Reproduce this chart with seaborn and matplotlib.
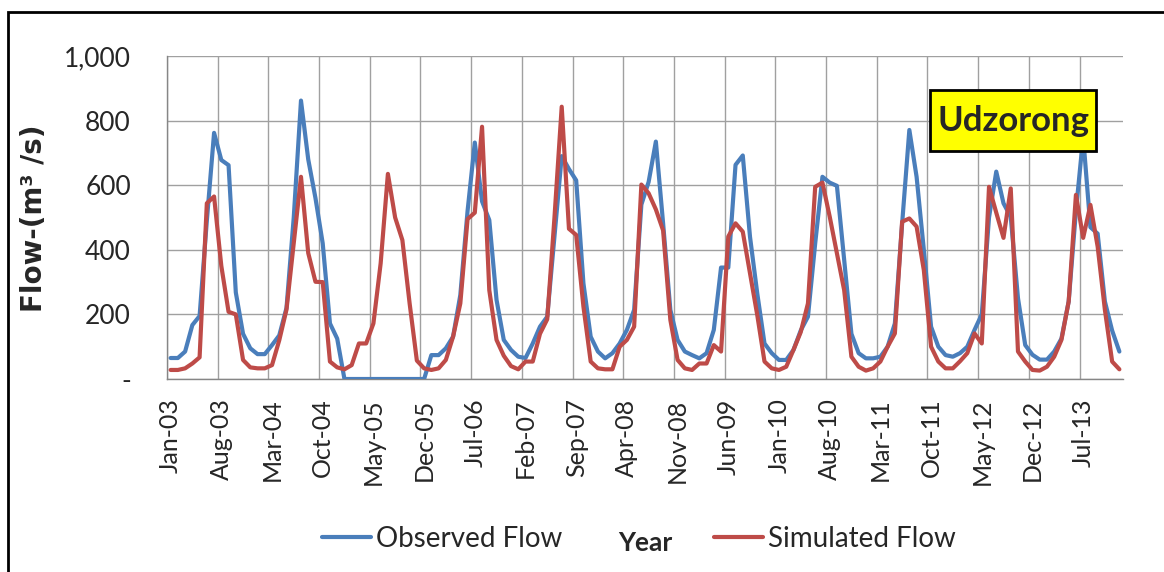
import numpy as np
import pandas as pd
import matplotlib
matplotlib.use("Agg")
import matplotlib.pyplot as plt
import seaborn as sns
from matplotlib.lines import Line2D
from matplotlib.patches import Rectangle

# ---------------- data (monthly, Jan-03 .. Dec-13) ----------------
observed = [65, 65, 85, 167, 195, 490, 762, 678, 662, 268, 140, 95,
            77, 77, 105, 135, 220, 500, 862, 680, 560, 420, 172, 125,
            0, 0, 0, 0, 0, 0, 0, 0, 0, 0, 0, 0,
            74, 74, 95, 131, 260, 520, 732, 550, 492, 245, 121, 90,
            69, 65, 110, 162, 193, 440, 690, 650, 615, 296, 131, 85,
            64, 80, 110, 152, 214, 540, 610, 735, 482, 214, 121, 85,
            74, 64, 80, 152, 345, 345, 663, 692, 440, 265, 110, 80,
            59, 59, 90, 150, 193, 420, 626, 608, 598, 370, 140, 80,
            64, 64, 69, 100, 172, 480, 771, 626, 400, 162, 100, 74,
            69, 80, 100, 152, 200, 500, 642, 544, 502, 250, 105, 75,
            60, 60, 85, 125, 240, 520, 750, 470, 450, 240, 150, 85]

simulated = [28, 28, 33, 48, 67, 544, 565, 350, 208, 200, 59, 36,
             33, 33, 43, 120, 215, 420, 626, 390, 301, 300, 54, 36,
             30, 43, 110, 110, 172, 358, 635, 500, 430, 234, 57, 33,
             28, 33, 59, 131, 234, 495, 515, 781, 275, 121, 72, 40,
             30, 54, 54, 140, 185, 500, 843, 465, 446, 224, 54, 33,
             30, 30, 100, 121, 162, 602, 575, 525, 460, 183, 59, 33,
             28, 48, 48, 105, 85, 441, 482, 456, 327, 198, 54, 33,
             28, 38, 90, 145, 234, 595, 608, 503, 389, 275, 69, 38,
             26, 33, 54, 100, 141, 487, 497, 472, 337, 100, 54, 33,
             33, 55, 80, 141, 110, 595, 515, 437, 590, 85, 54, 28,
             26, 38, 69, 121, 240, 570, 437, 539, 410, 214, 54, 30]

tick_labels = ["Jan-03", "Aug-03", "Mar-04", "Oct-04", "May-05", "Dec-05",
               "Jul-06", "Feb-07", "Sep-07", "Apr-08", "Nov-08", "Jun-09",
               "Jan-10", "Aug-10", "Mar-11", "Oct-11", "May-12", "Dec-12",
               "Jul-13"]
y_ticks = [0, 200, 400, 600, 800, 1000]
y_tick_labels = ["-", "200", "400", "600", "800", "1,000"]
series_names = ["Observed Flow", "Simulated Flow"]

# ---------------- styling ----------------
sns.set_theme(style="white")
plt.rcParams["font.family"] = ["Lato", "DejaVu Sans"]

BLUE = "#4A7EBB"
RED = "#BE4B48"
GRID = "#A0A0A0"
AXIS = "#868686"
W, H = 1164, 572

fig = plt.figure(figsize=(W / 100, H / 100), dpi=100)
fig.patch.set_facecolor("white")
ax = fig.add_axes([167 / W, 1 - 379 / H, (1123 - 167) / W, (379 - 56) / H])

n = len(observed)
months = np.arange(n)
df = pd.DataFrame({
    "Month": np.concatenate([months, months]),
    "Flow": observed + simulated,
    "Series": [series_names[0]] * n + [series_names[1]] * n,
})
sns.lineplot(data=df, x="Month", y="Flow", hue="Series",
             palette={series_names[0]: BLUE, series_names[1]: RED},
             linewidth=3.0, ax=ax, legend=False, zorder=3)

ax.set_xlim(-0.5, n - 0.5)
ax.set_ylim(0, 1000)

label_pos = np.arange(len(tick_labels)) * 7
ax.set_xticks(label_pos)
ax.set_xticklabels(tick_labels, rotation=90, fontsize=18)
ax.set_xticks(label_pos - 0.5, minor=True)
ax.tick_params(axis="x", which="both", length=0, pad=14)

ax.set_yticks(y_ticks)
ax.set_yticklabels(y_tick_labels, fontsize=19)
ax.tick_params(axis="y", which="major", length=8, width=1, color=AXIS,
               direction="out", pad=18)

ax.grid(False)
ax.grid(which="minor", axis="x", color=GRID, linewidth=1.0)
ax.grid(which="major", axis="y", color=GRID, linewidth=1.0)
ax.set_axisbelow(True)

for s in ["top", "right"]:
    ax.spines[s].set_visible(False)
for s in ["left", "bottom"]:
    ax.spines[s].set_color(AXIS)
    ax.spines[s].set_linewidth(1.0)

ax.set_ylabel("Flow-(m³ /s)", fontsize=20, fontweight="bold",
              family=["DejaVu Sans"])
ax.yaxis.set_label_coords((48 - 167) / 956, 0.497)
ax.set_xlabel("Year", fontsize=19, fontweight="bold")
lab = ax.xaxis.label
lab.set_verticalalignment("center")
ax.xaxis.set_label_coords(0.5, (379 - 543) / 323)

handles = [Line2D([], [], color=BLUE, linewidth=3.0),
           Line2D([], [], color=RED, linewidth=3.0)]
fig.legend(handles, series_names, loc="center",
           bbox_to_anchor=(639 / W, 1 - 539 / H), ncol=2, frameon=False,
           fontsize=20, handlelength=1.75, handletextpad=0.2,
           columnspacing=5.45)

# label box
fig.add_artist(Rectangle((930 / W, 1 - 151 / H), (1096 - 930) / W, 61 / H,
                         transform=fig.transFigure, facecolor="#FFFF00",
                         edgecolor="black", linewidth=2, zorder=9))
fig.text(1013 / W, 1 - 121 / H, "Udzorong", fontsize=25, fontweight="bold",
         ha="center", va="center", zorder=10)

fig.add_artist(Rectangle((8 / W, -0.1), 1.2, 1.1 - 12 / H,
                         transform=fig.transFigure, fill=False,
                         edgecolor="black", linewidth=2))

fig.savefig("out.png", dpi=100)
